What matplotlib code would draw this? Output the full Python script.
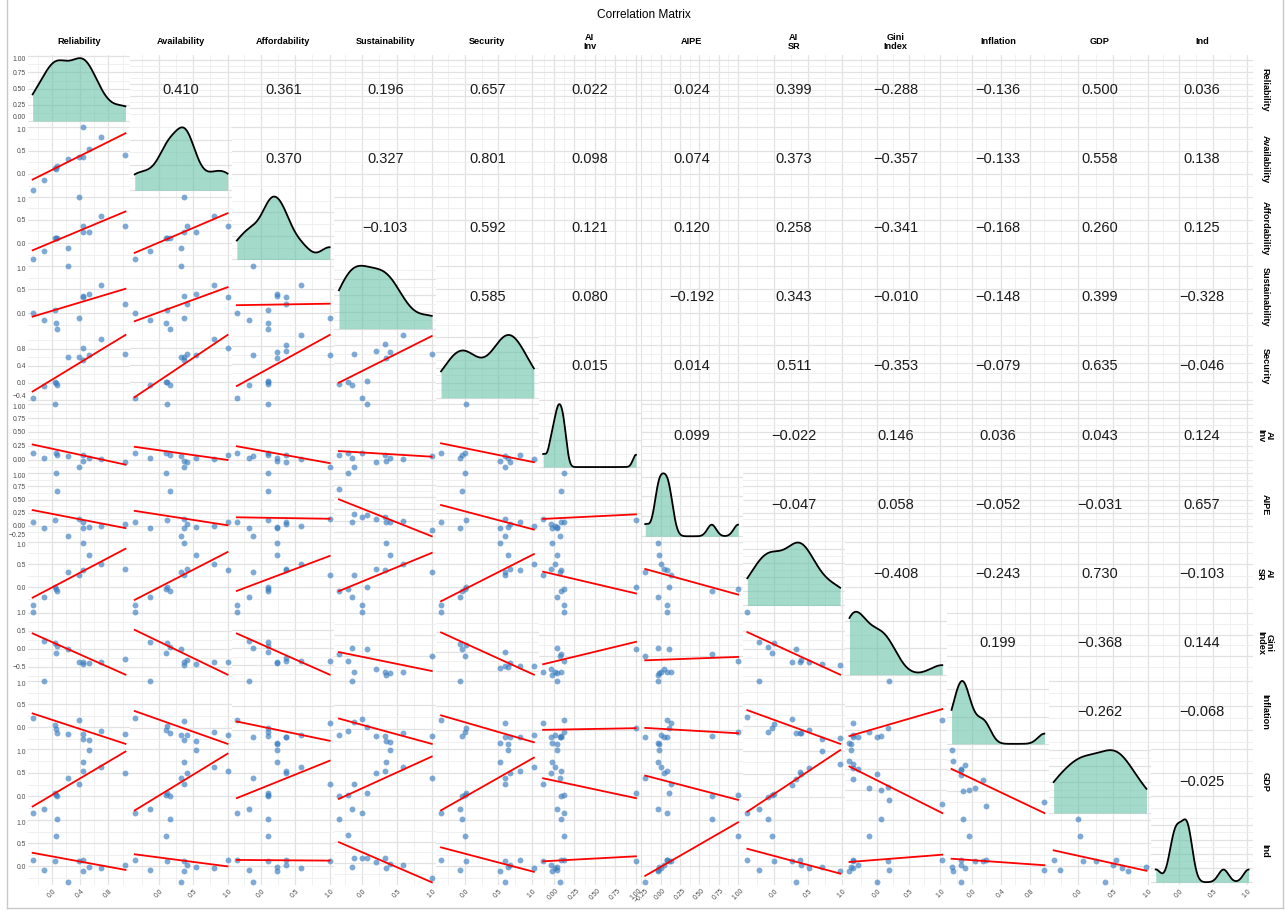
import numpy as np
import matplotlib
matplotlib.use("Agg")
import matplotlib.pyplot as plt

plt.rcParams["font.family"] = ["Liberation Sans", "DejaVu Sans"]

# ---- data -------------------------------------------------------------
labels = ["Reliability", "Availability", "Affordability", "Sustainability", "Security",
          "AI\nInv", "AIPE", "AI\nSR", "Gini\nIndex", "Inflation", "GDP", "Ind"]

reliability    = [-0.27, -0.11, 0.05, 0.06, 0.07, 0.23, 0.39, 0.44, 0.44, 0.53, 0.70, 1.04]
availability   = [-0.35, -0.13, 0.12, 0.10, 0.16, 0.33, 0.37, 0.37, 1.00, 0.54, 0.80, 0.41]
affordability  = [-0.35, -0.17, 0.11, 0.10, 0.11, -0.11, 1.00, 0.24, 0.37, 0.24, 0.59, 0.36]
sustainability = [0.00, -0.15, 0.07, -0.20, -0.33, 1.00, -0.11, 0.35, 0.33, 0.40, 0.59, 0.20]
security       = [-0.36, -0.07, 0.02, 0.00, -0.05, 0.60, 0.60, 0.53, 0.82, 0.65, 1.03, 0.67]
ai_inv         = [0.13, 0.04, 1.00, 0.13, 0.09, 0.07, -0.13, -0.02, 0.09, 0.04, 0.02, -0.04]
aipe           = [0.08, -0.04, 0.11, 1.00, 0.66, -0.20, 0.13, -0.04, 0.08, -0.02, 0.00, 0.04]
ai_sr          = [-0.40, -0.22, 0.00, -0.04, -0.09, 0.33, 0.27, 0.98, 0.38, 0.71, 0.51, 0.40]
gini           = [1.03, 0.20, 0.17, -0.12, 0.06, 0.00, -0.37, -0.43, -0.37, -0.40, -0.37, -0.29]
inflation      = [0.20, 1.00, 0.04, -0.04, -0.12, -0.15, 0.15, -0.26, -0.15, -0.28, -0.09, -0.15]
gdp            = [-0.35, -0.26, 0.07, 0.03, 0.00, 0.39, 0.26, 0.72, 0.54, 0.98, 0.63, 0.50]
ind            = [0.13, -0.09, 0.11, 0.65, 1.02, -0.35, 0.11, -0.11, 0.13, -0.02, -0.04, 0.02]

series = [reliability, availability, affordability, sustainability, security,
          ai_inv, aipe, ai_sr, gini, inflation, gdp, ind]

# correlation coefficients shown in the upper triangle, row by row
corr_upper = [
    [0.410, 0.361, 0.196, 0.657, 0.022, 0.024, 0.399, -0.288, -0.136, 0.500, 0.036],
    [0.370, 0.327, 0.801, 0.098, 0.074, 0.373, -0.357, -0.133, 0.558, 0.138],
    [-0.103, 0.592, 0.121, 0.120, 0.258, -0.341, -0.168, 0.260, 0.125],
    [0.585, 0.080, -0.192, 0.343, -0.010, -0.148, 0.399, -0.328],
    [0.015, 0.014, 0.511, -0.353, -0.079, 0.635, -0.046],
    [0.099, -0.022, 0.146, 0.036, 0.043, 0.124],
    [-0.047, 0.058, -0.052, -0.031, 0.657],
    [-0.408, -0.243, 0.730, -0.103],
    [0.199, -0.368, 0.144],
    [-0.262, -0.068],
    [-0.025],
]

x_breaks = [[0, 0.4, 0.8], [0, 0.5, 1], [0, 0.5, 1], [0, 0.5, 1], [0, 0.5, 1],
            [0, 0.25, 0.5, 0.75, 1], [-0.25, 0, 0.25, 0.5, 0.75, 1], [0, 0.5, 1],
            [0, 0.5, 1], [0, 0.4, 0.8], [0, 0.5, 1], [0, 0.5, 1]]
y_breaks = [[0, 0.25, 0.5, 0.75, 1.0], [0, 0.5, 1], [0, 0.5, 1], [0, 0.5, 1],
            [-0.4, 0, 0.4, 0.8], [0, 0.25, 0.5, 0.75, 1], [-0.25, 0, 0.25, 0.5, 0.75, 1],
            [0, 0.5, 1], [-0.5, 0, 0.5, 1], [0, 0.5, 1], [0, 0.5, 1], [0, 0.5, 1]]

# ---- helpers ----------------------------------------------------------
def fmt(v, dec):
    s = f"{v:.{dec}f}"
    return s.replace("-", "\u2212")


def decimals(br):
    quarter = any(abs(b * 2 - round(b * 2)) > 1e-9 and abs(b * 4 - round(b * 4)) < 1e-9 for b in br)
    return 2 if quarter else 1


def minor_of(br, lim):
    if len(br) < 2:
        return []
    step = br[1] - br[0]
    cand = [br[0] - step / 2] + [(a + b) / 2 for a, b in zip(br[:-1], br[1:])] + [br[-1] + step / 2]
    return [c for c in cand if lim[0] <= c <= lim[1]]


def within(br, lim):
    return [b for b in br if lim[0] <= b <= lim[1]]


def expand(lo, hi, frac=0.05):
    r = hi - lo
    return (lo - frac * r, hi + frac * r)


def kde(vals, n=512):
    v = np.asarray(vals, float)
    sd = v.std(ddof=1)
    iqr = np.subtract(*np.percentile(v, [75, 25]))
    bw = 0.9 * min(sd, iqr / 1.34) * len(v) ** -0.2
    g = np.linspace(v.min(), v.max(), n)
    d = np.exp(-0.5 * ((g[:, None] - v[None, :]) / bw) ** 2).sum(1) / (len(v) * bw * np.sqrt(2 * np.pi))
    return g, d


# ---- layout -----------------------------------------------------------
W, H = 1287, 910
fig = plt.figure(figsize=(W / 100, H / 100), dpi=100)
left, top = 28, 55
cw, rh = 102.1, 69.2
nv = len(series)

grid_major = dict(color="#e2e2e2", linewidth=0.9)
grid_minor = dict(color="#eeeeee", linewidth=0.6)
tick_color = "#4d4d4d"
point_color = "#3a7dc0"


def panel(i, j):
    x0 = left + j * cw
    y0 = top + i * rh
    ax = fig.add_axes([x0 / W, 1 - (y0 + rh) / H, cw / W, rh / H])
    for sp in ax.spines.values():
        sp.set_visible(False)
    ax.set_facecolor("none")
    ax.set_axisbelow(True)
    ax.tick_params(which="both", length=0, labelsize=4.9, colors=tick_color, pad=1.5)
    return ax


for i in range(nv):
    for j in range(nv):
        ax = panel(i, j)
        xs = np.asarray(series[j], float)
        ys = np.asarray(series[i], float)
        xlim = expand(xs.min(), xs.max())
        ax.set_xlim(xlim)

        if i == j:
            g, d = kde(series[j])
            m = d.max()
            ylim = (-0.05 * m, 1.05 * m)
            ax.set_ylim(ylim)
            yb = y_breaks[0] if i == 0 else [t for t in ax.get_yticks() if ylim[0] <= t <= ylim[1]]
            ax.fill_between(g, 0, d, color="#66c2a5", alpha=0.6, linewidth=0, zorder=2)
            ax.plot(g, d, color="black", linewidth=1.3, zorder=3)
        elif i > j:
            k, b = np.polyfit(xs, ys, 1)
            xl = np.array([xs.min(), xs.max()])
            yl = k * xl + b
            # the fitted line takes part in the vertical range, as in ggplot
            ylim = expand(min(ys.min(), yl.min()), max(ys.max(), yl.max()))
            ax.set_ylim(ylim)
            yb = within(y_breaks[i], ylim)
            ax.scatter(xs, ys, s=18, color=point_color, alpha=0.65, linewidths=0, zorder=2)
            ax.plot(xl, yl, color="red", linewidth=1.3, zorder=3)
        else:
            ylim = expand(ys.min(), ys.max())
            ax.set_ylim(ylim)
            yb = within(y_breaks[i], ylim)
            val = corr_upper[i][j - i - 1]
            ax.text(0.5, 0.5, fmt(val, 3), transform=ax.transAxes, ha="center",
                    va="center", fontsize=10.5, color="#1a1a1a")

        xb = within(x_breaks[j], xlim)
        ax.set_xticks(xb)
        ax.set_xticks(minor_of(xb, xlim), minor=True)
        ax.set_yticks(yb)
        ax.set_yticks(minor_of(list(yb), ylim), minor=True)
        ax.grid(True, which="major", **grid_major)
        ax.grid(True, which="minor", **grid_minor)

        # axis labels only on the outer panels
        if j == 0:
            dec = 2 if i == 0 else decimals(yb)
            ax.set_yticklabels([fmt(v, dec) for v in yb])
            for t, v in zip(ax.get_yticklabels(), yb):
                frac = (v - ylim[0]) / (ylim[1] - ylim[0])
                if frac < 0.06:
                    t.set_va("bottom")
                elif frac > 0.94:
                    t.set_va("top")
        else:
            ax.set_yticklabels([])
        if i == nv - 1:
            ax.set_xticklabels([fmt(v, decimals(xb)) for v in xb], rotation=45,
                               ha="center", va="top")
        else:
            ax.set_xticklabels([])

# column headers and row strips
for k, name in enumerate(labels):
    cx = left + (k + 0.5) * cw
    fig.text(cx / W, 1 - 42 / H, name, ha="center", va="center", fontsize=6.6,
             fontweight="bold", linespacing=1.0)
    cy = top + (k + 0.5) * rh
    fig.text(1265 / W, 1 - cy / H, name, ha="center", va="center", fontsize=6.6,
             fontweight="bold", rotation=-90, linespacing=1.0)

fig.text(0.5, 1 - 15 / H, "Correlation Matrix", ha="center", va="center", fontsize=8.6)

# thin frame on the left, right and bottom edges
frame = dict(color="#c8c8c8", linewidth=1.0, transform=fig.transFigure)
fig.add_artist(plt.Line2D([7 / W, 7 / W], [1 - 908 / H, 1.0], **frame))
fig.add_artist(plt.Line2D([1283 / W, 1283 / W], [1 - 908 / H, 1.0], **frame))
fig.add_artist(plt.Line2D([7 / W, 1283 / W], [1 - 908 / H, 1 - 908 / H], **frame))

fig.savefig("out.png", dpi=100, facecolor="white")
